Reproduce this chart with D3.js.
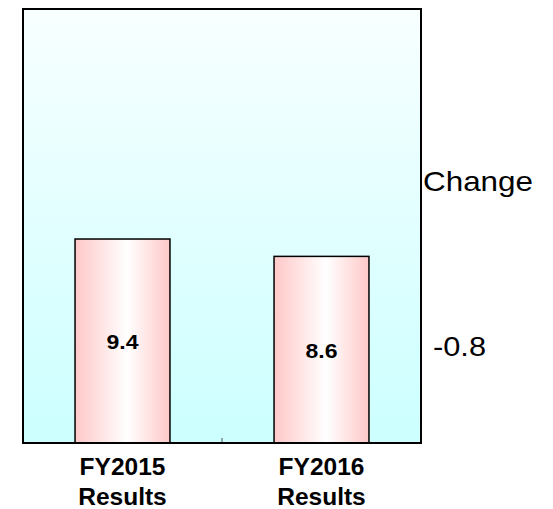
<!DOCTYPE html>
<html><head><meta charset="utf-8">
<script src="https://cdn.jsdelivr.net/npm/d3@7"></script>
<style>body{margin:0;background:#fff}svg{display:block}</style>
</head><body>
<svg id="c" width="553" height="509"></svg>
<script>
const categories = ["FY2015\nResults", "FY2016\nResults"];
const values = [9.4, 8.6];
const changeLabel = "Change";
const changeValue = "-0.8";

(function(){
const svg = d3.select("#c");
const pL = 23, pR = 421, pT = 9, pB = 443;
const font = "Liberation Sans, Arial, sans-serif";

const defs = svg.append("defs");
const bg = defs.append("linearGradient").attr("id","bg").attr("x1",0).attr("y1",0).attr("x2",0).attr("y2",1);
bg.append("stop").attr("offset","0%").attr("stop-color","#f8ffff");
bg.append("stop").attr("offset","100%").attr("stop-color","#ccffff");
const bar = defs.append("linearGradient").attr("id","bar").attr("x1",0).attr("y1",0).attr("x2",1).attr("y2",0);
bar.append("stop").attr("offset","0%").attr("stop-color","#ffc8c8");
bar.append("stop").attr("offset","55%").attr("stop-color","#ffffff");
bar.append("stop").attr("offset","100%").attr("stop-color","#ffc8c8");

const x = d3.scaleBand().domain(categories).range([pL, pR]).paddingInner(0.523).paddingOuter(0.2615);
const y = d3.scaleLinear().domain([0, 20]).range([pB, pT]);

svg.append("rect").attr("x", pL).attr("y", pT).attr("width", pR-pL).attr("height", pB-pT)
  .attr("fill","url(#bg)");

const mid = (x(categories[0]) + x(categories[1]) + x.bandwidth())/2;
svg.append("line").attr("x1", mid).attr("x2", mid)
  .attr("y1", pB).attr("y2", pB-5).attr("stroke","#555").attr("stroke-width",1);

svg.selectAll("rect.bar").data(values).join("rect").attr("class","bar")
  .attr("x",(d,i)=>x(categories[i])).attr("y",d=>y(d))
  .attr("width",x.bandwidth()).attr("height",d=>y(0)-y(d))
  .attr("fill","url(#bar)").attr("stroke","#000").attr("stroke-width",1.5);

svg.selectAll("text.val").data(values).join("text").attr("class","val")
  .attr("x",(d,i)=>x(categories[i])+x.bandwidth()/2)
  .attr("y",d=>(y(d)+y(0))/2+8)
  .attr("text-anchor","middle").attr("font-family",font)
  .attr("font-weight","bold").attr("font-size",21)
  .attr("textLength",32).attr("lengthAdjust","spacingAndGlyphs")
  .text(d=>d.toFixed(1));

svg.append("rect").attr("x", pL).attr("y", pT).attr("width", pR-pL).attr("height", pB-pT)
  .attr("fill","none").attr("stroke","#000").attr("stroke-width",2);

const xl = svg.selectAll("text.cat").data(categories).join("text").attr("class","cat")
  .attr("text-anchor","middle").attr("font-family",font)
  .attr("font-weight","bold").attr("font-size",24.5);
xl.each(function(d){
  const t = d3.select(this);
  const cx = x(d)+x.bandwidth()/2;
  d.split("\n").forEach((s,i)=>{
    t.append("tspan").attr("x",cx).attr("y",475+i*30).text(s);
  });
});

svg.append("text").attr("x",423).attr("y",190.5).attr("font-family",font)
  .attr("font-size",28).attr("textLength",110).attr("lengthAdjust","spacingAndGlyphs").text(changeLabel);
svg.append("text").attr("x",433).attr("y",356).attr("font-family",font)
  .attr("font-size",28).attr("textLength",53).attr("lengthAdjust","spacingAndGlyphs").text(changeValue);
})();
</script>
</body></html>
